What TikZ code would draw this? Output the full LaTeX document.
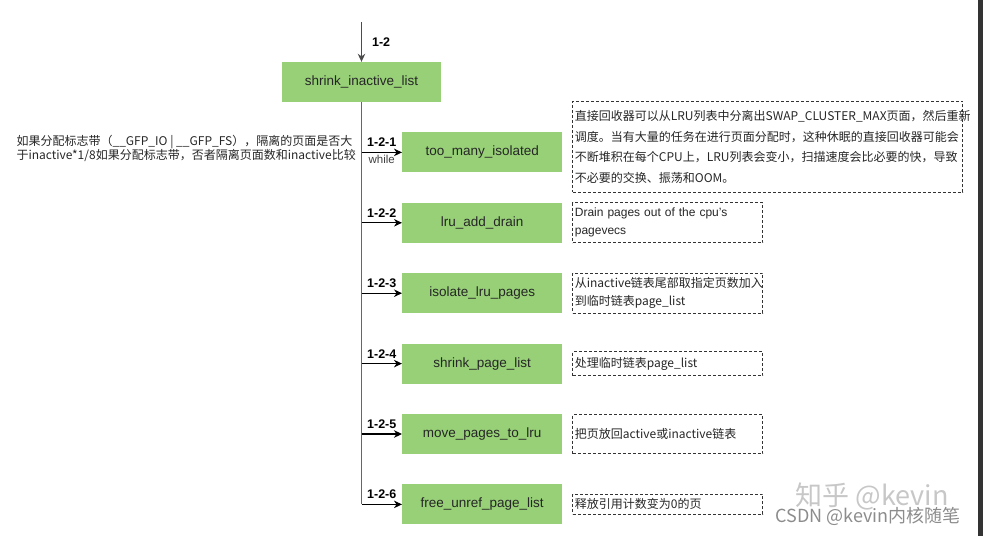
\documentclass[tikz,border=0pt]{standalone}
\usepackage{fontspec}
\setmainfont{Liberation Sans}
\newfontfamily\cjk{Noto Sans CJK SC}
\usetikzlibrary{positioning, arrows.meta, calc}
\definecolor{funcgreen}{HTML}{97D077}
\tikzset{
	->,
	>={Stealth[length=8pt, width=7.5pt, inset=2.5pt]},
	x=1pt, y=1pt,
	node distance=30pt,
	func/.style={-, fill=funcgreen, minimum width=160pt, minimum height=40pt, inner sep=0pt, text=black!85, font=\fontsize{13.5}{16}\selectfont},
	memo/.style={-, draw=black!80, dash pattern=on 3pt off 2pt, line width=0.9pt, inner xsep=2pt, inner ysep=0pt, align=left, text=black!85},
	stepno/.style={font=\bfseries\fontsize{12.5}{14}\selectfont, inner sep=2pt},
	trunk/.style={-, draw=black!60, line width=1.7pt},
	branch/.style={->, line width=1.1pt},
}

\begin{document}
\begin{tikzpicture}
			\useasboundingbox (0,0) rectangle (983,-536);
			\node[func, minimum width=159pt] (SHRINK) at (361.5,-82) {shrink\_inactive\_list};
			\coordinate[above=40pt of SHRINK] (TOP);
			\node[func, below right=30pt and 40.5pt of SHRINK.south] (TOOMANY) {too\_many\_isolated};
			\node[func, below=of TOOMANY] (DRAIN) {lru\_add\_drain};
			\node[func, below=of DRAIN] (ISOLATE) {isolate\_lru\_pages};
			\node[func, below=of ISOLATE] (PAGELIST) {shrink\_page\_list};
			\node[func, below=of PAGELIST] (MOVE) {move\_pages\_to\_lru};
			\node[func, below=of MOVE] (FREE) {free\_unref\_page\_list};
			
			\coordinate (B1) at (SHRINK.south |- TOOMANY.west);
			\coordinate (B2) at (SHRINK.south |- DRAIN.west);
			\coordinate (B3) at (SHRINK.south |- ISOLATE.west);
			\coordinate (B4) at (SHRINK.south |- PAGELIST.west);
			\coordinate (B5) at (SHRINK.south |- MOVE.west);
			\coordinate (B6) at (SHRINK.south |- FREE.west);
			
			\node[memo, right=10pt of TOOMANY, yshift=5.5pt, text width=386pt, minimum height=91pt, font=\cjk\fontsize{12}{20.5}\selectfont] (TOOMANYMEMO) {直接回收器可以从LRU列表中分离出SWAP\_CLUSTER\_MAX页面，然后重新\\调度。当有大量的任务在进行页面分配时，这种休眠的直接回收器可能会\\不断堆积在每个CPU上，LRU列表会变小，扫描速度会比必要的快，导致\\不必要的交换、振荡和OOM。};
			\node[memo, right=10pt of DRAIN, text width=186pt, minimum height=40pt, font=\fontsize{12}{18}\selectfont] (DRAINMEMO) {Drain pages out of the cpu's\\pagevecs};
			\node[memo, right=10pt of ISOLATE, text width=186pt, minimum height=40pt, font=\cjk\fontsize{12}{18}\selectfont] (ISOLATEMEMO) {从inactive链表尾部取指定页数加入\\到临时链表page\_list};
			\node[memo, right=10pt of PAGELIST, text width=186pt, minimum height=24pt, font=\cjk\fontsize{12}{18}\selectfont] (PAGELISTMEMO) {处理临时链表page\_list};
			\node[memo, right=10pt of MOVE, text width=186pt, minimum height=39pt, font=\cjk\fontsize{12}{18}\selectfont] (MOVEMEMO) {把页放回active或inactive链表};
			\node[memo, right=10pt of FREE, text width=186pt, minimum height=20pt, font=\cjk\fontsize{12}{18}\selectfont] (FREEMEMO) {释放引用计数变为0的页};
			\node[left=5.5pt of B1, yshift=4pt, inner sep=0pt, align=left, text=black!85, font=\cjk\fontsize{12}{11.5}\selectfont] (COND) {如果分配标志带（\_\_GFP\_IO | \_\_GFP\_FS），隔离的页面是否大\\于inactive*1/8如果分配标志带，否者隔离页面数和inactive比较};
			
			% watermark
			\node[text=black!22, font=\cjk\fontsize{27}{30}\selectfont, inner sep=0pt] (WM1) at (872,-496) {知乎 @kevin};
			\node[text=black!45, font=\cjk\fontsize{18}{20}\selectfont, inner sep=0pt] (WM2) at (868,-516.5) {CSDN @kevin内核随笔};
			\fill[-, black!80] (978,0) rectangle (983,-536);
			
			\draw[trunk] (SHRINK) -- (B6);
			\draw[->, line width=1.1pt, black!70] (TOP) -- node[stepno, right=8pt, text=black]{1-2} (SHRINK);
			\draw[branch] (B1) -- node[stepno, above=3pt]{1-2-1} node[below, inner sep=2pt, text=black!75, font=\fontsize{11.5}{13}\selectfont]{while} (TOOMANY);
			\draw[branch] (B2) -- node[stepno, above=3pt]{1-2-2} (DRAIN);
			\draw[branch] (B3) -- node[stepno, above=3pt]{1-2-3} (ISOLATE);
			\draw[branch] (B4) -- node[stepno, above=3pt]{1-2-4} (PAGELIST);
			\draw[branch] (B5) -- node[stepno, above=3pt]{1-2-5} (MOVE);
			\draw[branch] (B6) -- node[stepno, above=3pt]{1-2-6} (FREE);
			
		\end{tikzpicture}
\end{document}
